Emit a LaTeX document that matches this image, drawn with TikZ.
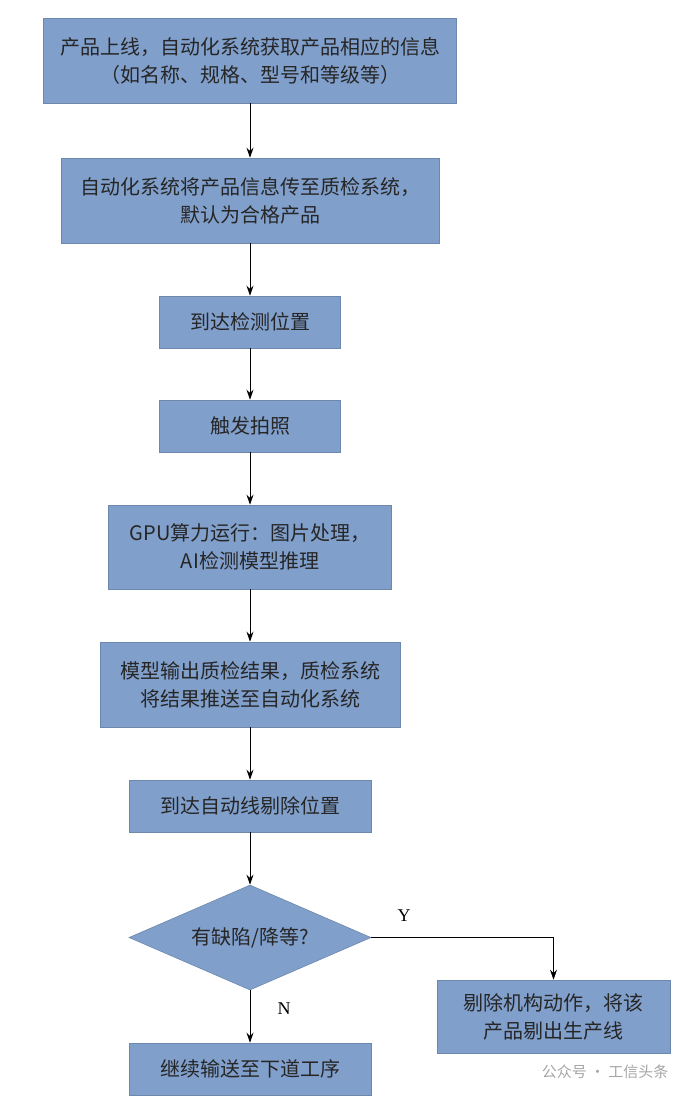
\documentclass[tikz,border=0pt]{standalone}
\usepackage{fontspec}
\setmainfont{Liberation Serif}
\newfontfamily\cjk{Noto Sans CJK SC}
\usetikzlibrary{arrows.meta,shapes.geometric}
\definecolor{boxblue}{HTML}{809FCB}
\tikzset{
  box/.style={draw=boxblue!85!black,fill=boxblue,line width=0.6pt,align=center,inner sep=0pt,font=\cjk\fontsize{20}{28}\selectfont,text=black!85},
  arr/.style={-{Stealth[length=10pt,width=7pt]},line width=1pt},
  lbl/.style={font=\fontsize{18}{20}\selectfont}
}
\begin{document}
\begin{tikzpicture}[x=1pt,y=-1pt]
\useasboundingbox (0,0) rectangle (694,1100);
\node[box,minimum width=413,minimum height=85] (b1) at (250,60.5) {产品上线，自动化系统获取产品相应的信息\\（如名称、规格、型号和等级等）};
\node[box,minimum width=378,minimum height=85] (b2) at (250,200.5) {自动化系统将产品信息传至质检系统，\\默认为合格产品};
\node[box,minimum width=181,minimum height=52] (b3) at (250,322) {到达检测位置};
\node[box,minimum width=181,minimum height=52] (b4) at (250,426) {触发拍照};
\node[box,minimum width=283,minimum height=84] (b5) at (250,547) {GPU算力运行：图片处理，\\AI检测模型推理};
\node[box,minimum width=300,minimum height=85] (b6) at (250,684.5) {模型输出质检结果，质检系统\\将结果推送至自动化系统};
\node[box,minimum width=242,minimum height=52] (b7) at (250,806) {到达自动线剔除位置};
\node[box,diamond,aspect=2.3,minimum width=242,minimum height=105] (d) at (250,937.5) {有缺陷/降等?};
\node[box,minimum width=242,minimum height=52] (b8) at (250,1069) {继续输送至下道工序};
\node[box,minimum width=233,minimum height=73] (b9) at (553.5,1016.5) {剔除机构动作，将该\\产品剔出生产线};
\coordinate (c) at (b9.north |- d.east);
\draw[arr] (b1) -- (b2);
\draw[arr] (b2) -- (b3);
\draw[arr] (b3) -- (b4);
\draw[arr] (b4) -- (b5);
\draw[arr] (b5) -- (b6);
\draw[arr] (b6) -- (b7);
\draw[arr] (b7) -- (d);
\draw[arr] (d) -- (b8);
\draw[arr] (d.east) -- (c) -- (b9.north);
\node[lbl] (y) at (404,916) {Y};
\node[lbl] (n) at (284,1009) {N};
\node[font=\cjk\fontsize{15}{15}\selectfont,text=black!35,anchor=east] (wm) at (672,1072) {公众号 · 工信头条};
\end{tikzpicture}
\end{document}
